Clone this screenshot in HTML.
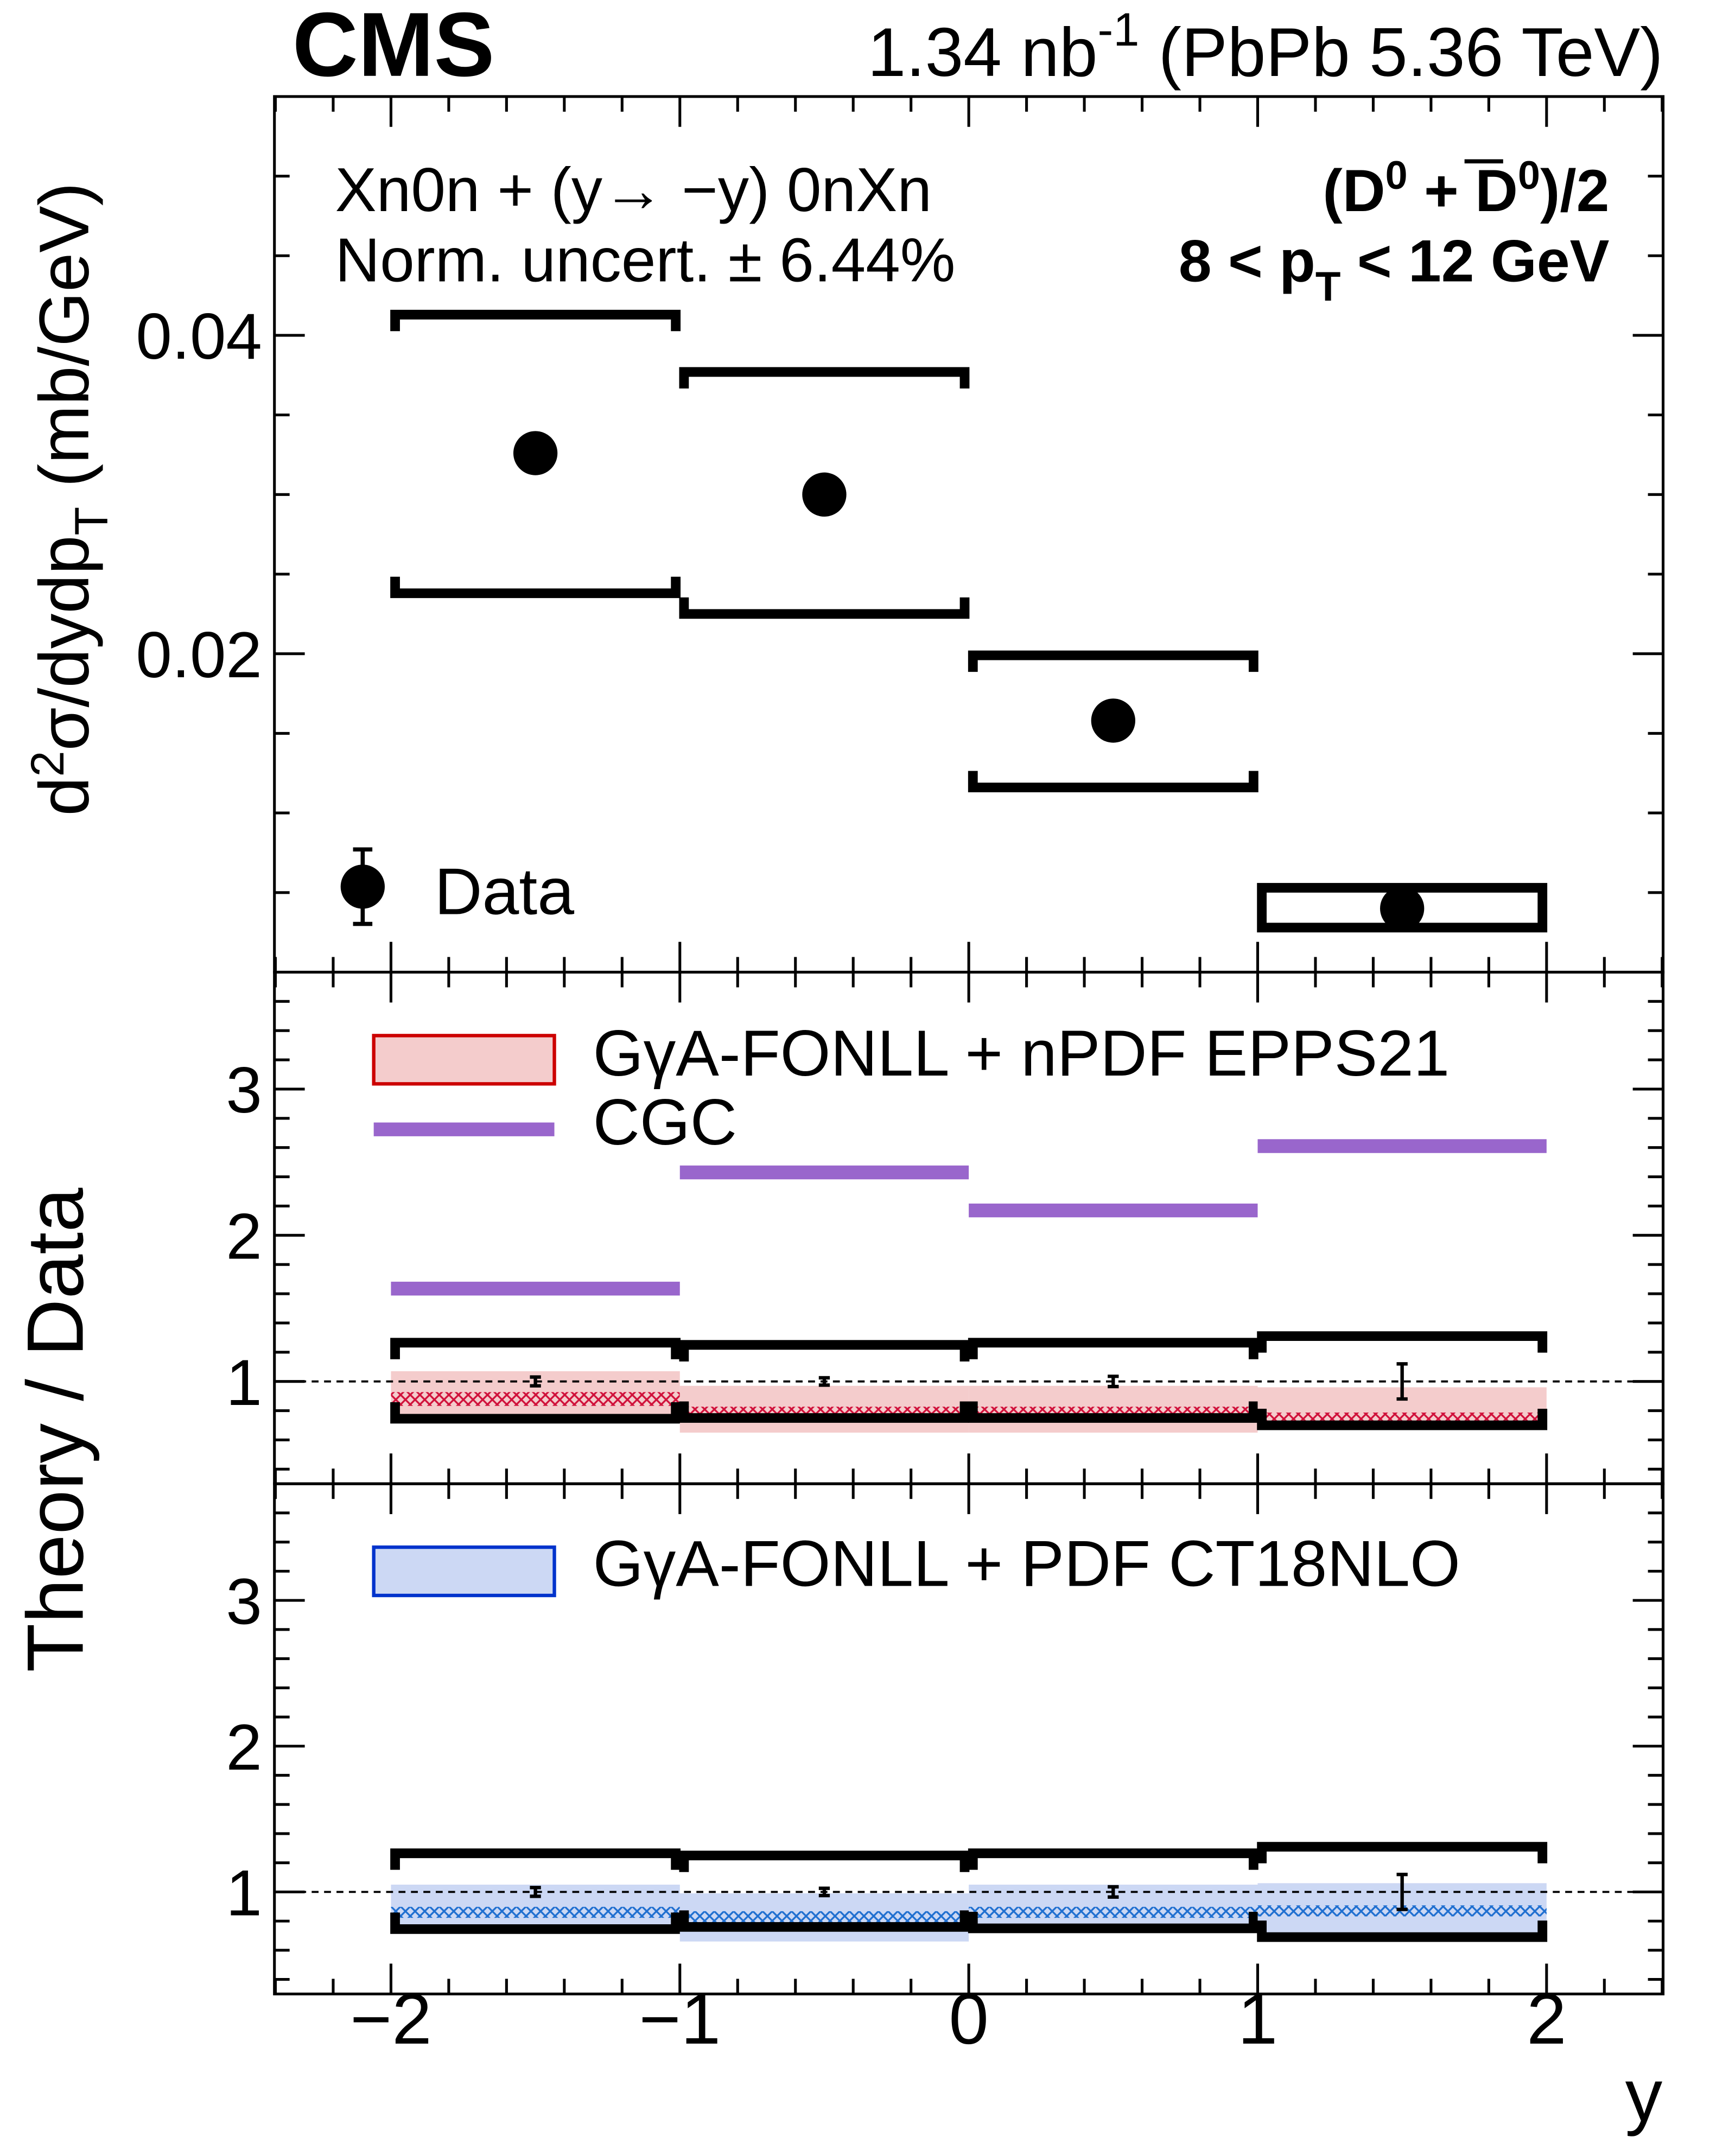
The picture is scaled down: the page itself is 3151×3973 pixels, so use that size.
<!DOCTYPE html>
<html><head><meta charset="utf-8"><style>
html,body{margin:0;padding:0;background:#fff}
svg{display:block}
text{font-family:"Liberation Sans",sans-serif;fill:#000}
</style></head><body>
<svg id="c" xmlns="http://www.w3.org/2000/svg" width="3151" height="3973" viewBox="0 0 1240 1563.5">
<text x="212" y="55" font-size="66" font-weight="bold">CMS</text>
<text x="1206" y="55" font-size="50" text-anchor="end">1.34 nb<tspan dy="-22" font-size="34">-1</tspan><tspan dy="22"> (PbPb 5.36 TeV)</tspan></text>
<text x="243" y="153" font-size="45">Xn0n + (y→ −y) 0nXn</text>
<text x="243" y="204" font-size="45">Norm. uncert. ± 6.44%</text>
<text x="1167" y="153" font-size="43" font-weight="bold" text-anchor="end">(D<tspan dy="-16" font-size="29">0</tspan><tspan dy="16"> +  D</tspan><tspan dy="-16" font-size="29">0</tspan><tspan dy="16">)/2</tspan></text>
<line x1="1062" y1="117" x2="1090" y2="117" stroke="#000" stroke-width="3"/>
<text x="1167" y="204" font-size="43" font-weight="bold" text-anchor="end">8 &lt; p<tspan dy="14" font-size="30">T</tspan><tspan dy="-14"> &lt; 12 GeV</tspan></text>
<text transform="translate(64,362) rotate(-90)" font-size="51" text-anchor="middle">d<tspan dy="-18" font-size="34">2</tspan><tspan dy="18">σ/dydp</tspan><tspan dy="14" font-size="34">T</tspan><tspan dy="-14">  (mb/GeV)</tspan></text>
<text transform="translate(60,1037) rotate(-90)" font-size="58" text-anchor="middle">Theory / Data</text>
<text x="1192" y="1538" font-size="54" text-anchor="middle">y</text>
<g id="g"></g>
</svg>
<script>
// data
const binEdges=[-2,-1,0,1,2];
const binCenters=[-1.5,-0.5,0.5,1.5];
const xsec=[0.0326,0.0300,0.0158,0.0040];
const xsecSysUp=[0.0413,0.0377,0.0199,0.0053];
const xsecSysDn=[0.0238,0.0225,0.0116,0.0028];
const cgcRatio=[1.635,2.43,2.17,2.61];
const eppsCentral=[0.88,0.78,0.78,0.74];
const eppsUp=[1.07,0.97,0.97,0.96];
const eppsDn=[0.72,0.65,0.65,0.72];
const ct18Central=[0.86,0.83,0.86,0.87];
const ct18Up=[1.05,0.99,1.05,1.06];
const ct18Dn=[0.72,0.66,0.72,0.70];
const ratioSysUpA=[1.265,1.25,1.265,1.31];
const ratioSysDnA=[0.745,0.75,0.75,0.70];
const ratioSysUpB=[1.265,1.25,1.265,1.31];
const ratioSysDnB=[0.745,0.76,0.75,0.69];
const ratioStat=[0.03,0.025,0.035,0.12];
const xTicks=[-2,-1,0,1,2];
const xTickLabels=["−2","−1","0","1","2"];
const topTicks=[0.02,0.04];
const topTickLabels=["0.02","0.04"];
const ratioTicks=[1,2,3];
const ratioTickLabels=["1","2","3"];

const NS="http://www.w3.org/2000/svg";
const g=document.getElementById('g');
function el(t,a,p){const e=document.createElementNS(NS,t);for(const k in a)e.setAttribute(k,a[k]);(p||g).appendChild(e);return e;}
const L=199,R=1206;
const X=v=>702.5+v*209.5;
const P=[{t:70,b:705,min:0,max:0.055},{t:705,b:1076,min:0.3,max:3.8},{t:1076,b:1446,min:0.3,max:3.8}];
const Y=(i,v)=>P[i].b-(v-P[i].min)/(P[i].max-P[i].min)*(P[i].b-P[i].t);

// frames and ticks
P.forEach((p,i)=>{
  const f=el('rect',{x:L,y:p.t,width:R-L,height:p.b-p.t,fill:'none',stroke:'#000','stroke-width':2});
  
  
  for(let v=-2.4;v<=2.41;v+=0.2){
    const vv=Math.round(v*10)/10;const maj=Math.abs(vv-Math.round(vv))<1e-6;const len=maj?22:11;
    el('line',{x1:X(vv),x2:X(vv),y1:p.b,y2:p.b-len,stroke:'#000','stroke-width':2});
    el('line',{x1:X(vv),x2:X(vv),y1:p.t,y2:p.t+len,stroke:'#000','stroke-width':2});
  }
  const step=i==0?0.005:0.2, start=i==0?0.005:0.4;
  for(let v=start;v<p.max-1e-9;v+=step){
    const vv=Math.round(v*1000)/1000;
    const maj=i==0?(Math.abs(vv/0.02-Math.round(vv/0.02))<1e-6):(Math.abs(vv-Math.round(vv))<1e-6);
    const len=maj?22:11;
    el('line',{x1:L,x2:L+len,y1:Y(i,vv),y2:Y(i,vv),stroke:'#000','stroke-width':2});
    el('line',{x1:R,x2:R-len,y1:Y(i,vv),y2:Y(i,vv),stroke:'#000','stroke-width':2});
  }
});
topTicks.forEach((v,k)=>{const t=el('text',{x:190,y:Y(0,v)+17,'font-size':47,'text-anchor':'end'});t.textContent=topTickLabels[k];
  
  });
[1,2].forEach(i=>ratioTicks.forEach((v,k)=>{const t=el('text',{x:190,y:Y(i,v)+17,'font-size':47,'text-anchor':'end'});t.textContent=ratioTickLabels[k];
  
  }));
xTicks.forEach((v,k)=>{const t=el('text',{x:X(v),y:1482,'font-size':52,'text-anchor':'middle'});t.textContent=xTickLabels[k];
  
  });

// hatch patterns
const defs=el('defs',{});
[['xr','#d0103a'],['xb','#1f6fd0']].forEach(([id,c])=>{
  const pt=el('pattern',{id:id,width:7,height:7,patternUnits:'userSpaceOnUse'},defs);
  el('path',{d:'M0,0L7,7M7,0L0,7',stroke:c,'stroke-width':1.3},pt);
});

function bracket(x1,x2,y,dir,name){
  const h=12*dir;
  const b=el('path',{d:`M${x1+3},${y+h}L${x1+3},${y}L${x2-3},${y}L${x2-3},${y+h}`,fill:'none',stroke:'#000','stroke-width':7});
  
  
}
for(let k=0;k<4;k++){
  const x1=X(binEdges[k]),x2=X(binEdges[k+1]);
  if(k==3){const r=el('rect',{x:x1+3,y:Y(0,xsecSysUp[k]),width:x2-x1-6,height:Y(0,xsecSysDn[k])-Y(0,xsecSysUp[k]),fill:'none',stroke:'#000','stroke-width':7});
    
    }
  else{bracket(x1,x2,Y(0,xsecSysUp[k]),1,'sys-upper-bin'+(k+1));bracket(x1,x2,Y(0,xsecSysDn[k]),-1,'sys-lower-bin'+(k+1));}
  const d=el('circle',{cx:X(binCenters[k]),cy:Y(0,xsec[k]),r:16,fill:'#000'});
  
  
  const band=el('rect',{x:x1,y:Y(1,eppsUp[k]),width:x2-x1,height:Y(1,eppsDn[k])-Y(1,eppsUp[k]),fill:'#f4cccc'});
  
  
  el('rect',{x:x1,y:Y(1,eppsCentral[k])-5,width:x2-x1,height:10,fill:'url(#xr)'});
  const cg=el('line',{x1:x1,x2:x2,y1:Y(1,cgcRatio[k]),y2:Y(1,cgcRatio[k]),stroke:'#9966cc','stroke-width':10});
  
  
  bracket(x1,x2,Y(1,ratioSysUpA[k]),1,'ratio-sys-upper');bracket(x1,x2,Y(1,ratioSysDnA[k]),-1,'ratio-sys-lower');
  const bb=el('rect',{x:x1,y:Y(2,ct18Up[k]),width:x2-x1,height:Y(2,ct18Dn[k])-Y(2,ct18Up[k]),fill:'#ccd8f4'});
  
  
  el('rect',{x:x1,y:Y(2,ct18Central[k])-4,width:x2-x1,height:8,fill:'url(#xb)'});
  bracket(x1,x2,Y(2,ratioSysUpB[k]),1,'ratio-sys-upper');bracket(x1,x2,Y(2,ratioSysDnB[k]),-1,'ratio-sys-lower');
}
[1,2].forEach(i=>{
  const dl=el('line',{x1:L,x2:R,y1:Y(i,1),y2:Y(i,1),stroke:'#000','stroke-width':1.5,'stroke-dasharray':'5,4'});
  
  
  for(let k=0;k<4;k++){const x=X(binCenters[k]);const y1=Y(i,1+ratioStat[k]),y2=Y(i,1-ratioStat[k]);
    el('path',{d:`M${x},${y1}L${x},${y2}M${x-4},${y1}L${x+4},${y1}M${x-4},${y2}L${x+4},${y2}`,stroke:'#000','stroke-width':2.5,fill:'none'});}
});
// legends
el('line',{x1:263,x2:263,y1:616,y2:670,stroke:'#000','stroke-width':3});
el('path',{d:'M256,616L270,616M256,670L270,670',stroke:'#000','stroke-width':3});
const lc=el('circle',{cx:263,cy:643,r:16,fill:'#000'});


const lt=el('text',{x:315,y:663,'font-size':48});lt.textContent='Data';


const r1=el('rect',{x:271,y:751,width:131,height:35,fill:'#f4cccc',stroke:'#cc0000','stroke-width':2.5});


const t1=el('text',{x:430,y:780,'font-size':47});t1.textContent='GγA-FONLL + nPDF EPPS21';


const c1=el('line',{x1:271,x2:402,y1:819,y2:819,stroke:'#9966cc','stroke-width':10});


const t2=el('text',{x:430,y:830,'font-size':47});t2.textContent='CGC';


const r2=el('rect',{x:271,y:1122,width:131,height:35,fill:'#ccd8f4',stroke:'#0033cc','stroke-width':2.5});


const t3=el('text',{x:430,y:1150,'font-size':47});t3.textContent='GγA-FONLL + PDF CT18NLO';


</script>
</body></html>
